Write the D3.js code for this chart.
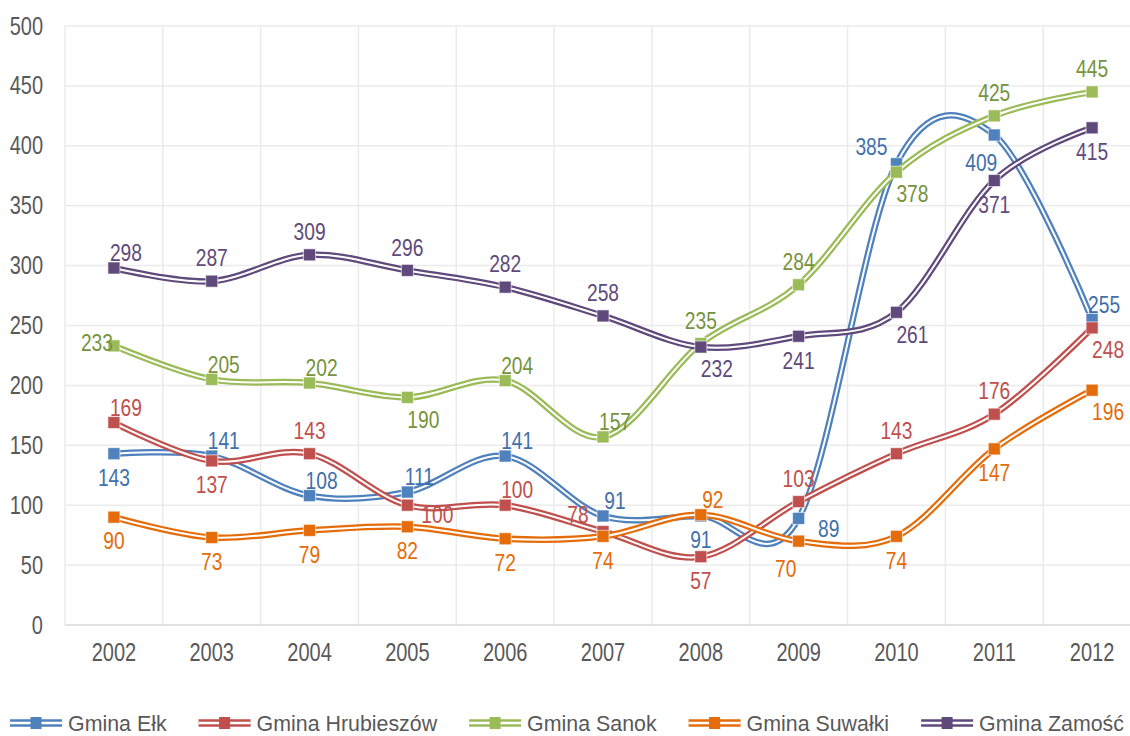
<!DOCTYPE html>
<html>
<head>
<meta charset="utf-8">
<script src="https://cdn.jsdelivr.net/npm/d3@7"></script>
<style>
  body { margin: 0; background: #fff; }
  text { font-family: "Liberation Sans", Arial, sans-serif; }
</style>
</head>
<body>
<script>
const years = ["2002","2003","2004","2005","2006","2007","2008","2009","2010","2011","2012"];
const names = ["Gmina Ełk","Gmina Hrubieszów","Gmina Sanok","Gmina Suwałki","Gmina Zamość"];

const elk        = [143,141,108,111,141,91,91,89,385,409,255];
const hrubieszow = [169,137,143,100,100,78,57,103,143,176,248];
const sanok      = [233,205,202,190,204,157,235,284,378,425,445];
const suwalki    = [90,73,79,82,72,74,92,70,74,147,196];
const zamosc     = [298,287,309,296,282,258,232,241,261,371,415];

const yTicks = [0,50,100,150,200,250,300,350,400,450,500];

// where each value label sits relative to its marker
const elkPos   = ["b","tr","tr","tr","tr","tr","b","r","tl","bl","tr"];
const hrubPos  = ["tr","b","t","r","tr","tl","b","t","t","t","br"];
const sanokPos = ["l","tr","tr","br","tr","tr","t","t","br","t","t"];
const suwPos   = ["b","b","b","b","b","b","tr","bl","b","b","br"];
const zamPos   = ["tr","t","t","t","t","t","br","b","br","b","b"];

const lineColors  = ["#4f81bd","#c0504d","#9bbb59","#e46c0a","#604a7b"];
const labelColors = ["#4170aa","#c0504d","#77933c","#e46c0a","#604a7b"];

const seriesData = [elk, hrubieszow, sanok, suwalki, zamosc];
const seriesPos  = [elkPos, hrubPos, sanokPos, suwPos, zamPos];

const offsets = {
  t:[0,-23], b:[0,24], tr:[12,-15], tl:[-25,-17],
  br:[16,22], bl:[-13,28], r:[30,10], l:[-17,-3]
};

const width = 1130, height = 736;
const plotLeft = 65, plotRight = 1141, plotTop = 26, plotBottom = 625;
const squeeze = 0.8;   // condensed look for the numbers

const svg = d3.select("body").append("svg")
  .attr("width", width).attr("height", height);

const x = d3.scaleBand().domain(years).range([plotLeft, plotRight]).padding(0);
const cx = d => x(d) + x.bandwidth()/2;
const y = d3.scaleLinear().domain([0, 500]).range([plotBottom, plotTop]);

// gridlines
svg.append("g").selectAll("line")
  .data(yTicks.slice(1))
  .enter().append("line")
  .attr("x1", plotLeft).attr("x2", plotRight)
  .attr("y1", d => y(d)).attr("y2", d => y(d))
  .attr("stroke", "#ebebeb").attr("stroke-width", 1.5);

svg.append("g").selectAll("line")
  .data(years)
  .enter().append("line")
  .attr("x1", d => x(d)).attr("x2", d => x(d))
  .attr("y1", y(500)).attr("y2", y(0))
  .attr("stroke", "#ebebeb").attr("stroke-width", 1.5);

svg.append("line")
  .attr("x1", plotLeft).attr("x2", plotRight)
  .attr("y1", y(0)).attr("y2", y(0))
  .attr("stroke", "#d9d9d9").attr("stroke-width", 1.5);

// squeeze axis text horizontally around its anchor
function narrowAxis(g, k) {
  g.selectAll("text").each(function() {
    const t = d3.select(this);
    const tx = +t.attr("x") || 0, ty = +t.attr("y") || 0;
    t.attr("transform", `translate(${tx},${ty}) scale(${k},1)`).attr("x", 0).attr("y", 0);
  });
}

// axes labels
const yAxis = d3.axisLeft(y).tickValues(yTicks).tickSize(0).tickPadding(22);
const gy = svg.append("g").attr("transform", `translate(${plotLeft},0)`).call(yAxis);
gy.select(".domain").remove();
gy.selectAll("text").attr("font-size", 25).attr("fill", "#595959").attr("font-family", null);
narrowAxis(gy, squeeze);

const xAxis = d3.axisBottom(x).tickSize(0).tickPadding(18);
const gx = svg.append("g").attr("transform", `translate(0,${plotBottom})`).call(xAxis);
gx.select(".domain").remove();
gx.selectAll("text").attr("font-size", 25).attr("fill", "#595959").attr("font-family", null);
narrowAxis(gx, squeeze);

const line = d3.line()
  .x((d,i) => cx(years[i]))
  .y(d => y(d))
  .curve(d3.curveCardinal.tension(0));

// series
seriesData.forEach((vals, s) => {
  const g = svg.append("g");
  g.append("path").attr("d", line(vals))
    .attr("fill", "none").attr("stroke", lineColors[s]).attr("stroke-width", 6.5);
  g.append("path").attr("d", line(vals))
    .attr("fill", "none").attr("stroke", "#fff").attr("stroke-width", 2);
  g.selectAll("rect").data(vals).enter().append("rect")
    .attr("x", (d,i) => cx(years[i]) - 6)
    .attr("y", d => y(d) - 6)
    .attr("width", 12).attr("height", 12)
    .attr("fill", lineColors[s])
    .attr("stroke", "#fff").attr("stroke-opacity", 0.6).attr("stroke-width", 1);
});

// value labels
seriesData.forEach((vals, s) => {
  svg.append("g").selectAll("text").data(vals).enter().append("text")
    .attr("transform", (d,i) => {
      const o = offsets[seriesPos[s][i]];
      return `translate(${cx(years[i]) + o[0]},${y(d) + o[1]}) scale(${squeeze},1)`;
    })
    .attr("text-anchor", "middle")
    .attr("dominant-baseline", "central")
    .attr("font-size", 24)
    .attr("fill", labelColors[s])
    .text(d => d);
});

// legend
const legend = svg.append("g");
const legendSqueeze = 0.93;
let lx = 0;
names.forEach((n, s) => {
  const item = legend.append("g").attr("transform", `translate(${lx},0)`);
  item.append("line").attr("x1", 0).attr("x2", 52).attr("y1", 0).attr("y2", 0)
    .attr("stroke", lineColors[s]).attr("stroke-width", 7.5);
  item.append("line").attr("x1", 0).attr("x2", 52).attr("y1", 0).attr("y2", 0)
    .attr("stroke", "#fff").attr("stroke-width", 2.5);
  item.append("rect").attr("x", 20.5).attr("y", -6).attr("width", 11).attr("height", 12)
    .attr("fill", lineColors[s]);
  const t = item.append("text")
    .attr("transform", `translate(58,0) scale(${legendSqueeze},1)`)
    .attr("dominant-baseline", "central")
    .attr("font-size", 23).attr("fill", "#595959").text(n);
  lx += 58 + t.node().getComputedTextLength() * legendSqueeze + 32;
});
const legendW = lx - 32;
legend.attr("transform", `translate(${(width - legendW)/2 + 2},723)`);
</script>
</body>
</html>
